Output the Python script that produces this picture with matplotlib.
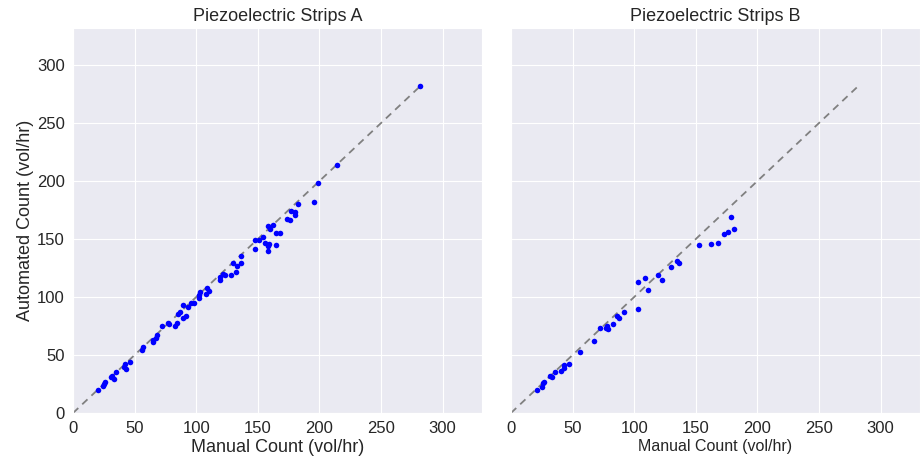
import numpy as np
import matplotlib
matplotlib.use('Agg')
import matplotlib.pyplot as plt
import seaborn as sns

sns.set_style('darkgrid')
plt.rcParams['font.family'] = ['Liberation Sans', 'DejaVu Sans']

# Piezoelectric strips A: manual vs automated counts (vol/hr)
manual_a = [282, 214, 199, 196, 183, 177, 180, 180, 174, 176,
            162, 158, 160, 165, 168, 148, 151, 154, 156, 159,
            158, 148, 158, 165, 136, 130, 136, 133, 132, 128,
            122, 123, 119, 119, 109, 103, 102, 110, 108, 102,
            98, 96, 89, 93, 87, 85, 92, 89, 84, 83,
            77, 78, 72, 68, 67, 65, 65, 57, 56, 46,
            42, 41, 43, 35, 32, 33, 31, 26, 25, 24, 20]
auto_a = [282, 214, 198, 182, 180, 174, 173, 171, 167, 166,
          162, 161, 159, 155, 155, 149, 149, 152, 147, 146,
          144, 141, 140, 145, 135, 129, 129, 127, 122, 119,
          120, 119, 117, 115, 108, 104, 102, 105, 103, 99,
          95, 95, 93, 91, 87, 85, 84, 82, 78, 75,
          78, 77, 75, 67, 65, 63, 61, 57, 54, 44,
          42, 40, 38, 35, 32, 29, 31, 27, 25, 23, 20]

# Piezoelectric strips B
manual_b = [179, 181, 176, 173, 168, 162, 153, 135, 136, 130,
            119, 123, 109, 103, 111, 103, 92, 88, 86, 83,
            78, 77, 79, 72, 67, 56, 47, 43, 43, 41,
            36, 33, 32, 27, 26, 25, 21]
auto_b = [169, 159, 156, 154, 147, 146, 145, 131, 129, 126,
          119, 115, 116, 113, 106, 90, 87, 82, 84, 77,
          75, 73, 72, 73, 62, 53, 42, 41, 39, 36,
          35, 31, 32, 27, 26, 22, 20]

ticks = [0, 50, 100, 150, 200, 250, 300]
lim = 332
line_max = 282

fig = plt.figure(figsize=(9.22, 4.58), dpi=100)
ax1 = fig.add_axes([0.0792, 0.0983, 0.4436, 0.8406])
ax2 = fig.add_axes([0.5542, 0.0983, 0.4436, 0.8406], sharey=ax1)

for ax, mx, ay, title in [(ax1, manual_a, auto_a, 'Piezoelectric Strips A'),
                          (ax2, manual_b, auto_b, 'Piezoelectric Strips B')]:
  ax.plot([0, line_max], [0, line_max], color='gray', lw=1.3,
          dashes=(4, 3), zorder=2)
  ax.plot(mx, ay, 'o', color='blue', ms=4, mec='none', zorder=3)
  ax.set_xlim(0, lim)
  ax.set_ylim(0, lim)
  ax.set_xticks(ticks)
  ax.set_yticks(ticks)
  ax.tick_params(labelsize=12, length=0, pad=6)
  ax.set_title(title, fontsize=13, pad=5)

ax1.set_xlabel('Manual Count (vol/hr)', fontsize=13, labelpad=2)
ax1.set_ylabel('Automated Count (vol/hr)', fontsize=13, labelpad=2)
ax2.set_xlabel('Manual Count (vol/hr)', fontsize=11.5, labelpad=2)
plt.setp(ax2.get_yticklabels(), visible=False)

fig.savefig('out.png', dpi=100)
